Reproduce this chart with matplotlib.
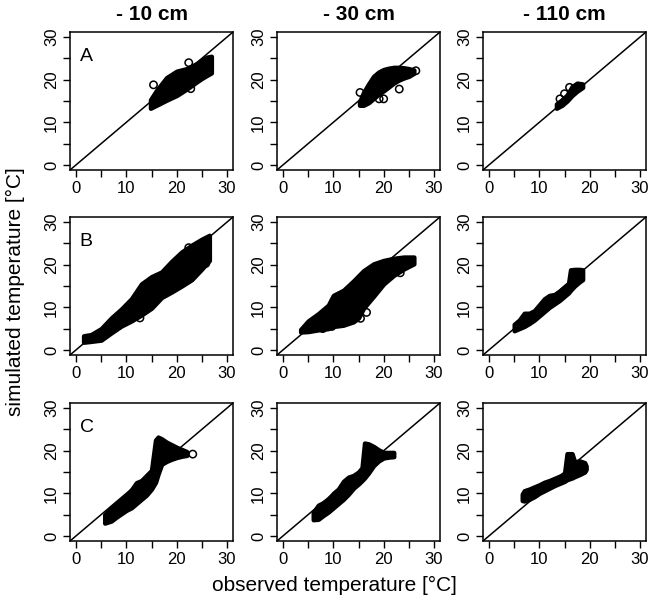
import matplotlib
matplotlib.use('Agg')
import matplotlib.pyplot as plt

plt.rcParams['font.family'] = ['Liberation Sans', 'DejaVu Sans']

# envelope of the point clouds: observed, simulated low / high
# row A
a10_obs = [14.8, 16, 18, 20, 22, 24, 25, 26, 26.9]
a10_lo = [13.3, 14.0, 15.2, 16.3, 17.8, 19.5, 20.3, 21.0, 21.6]
a10_hi = [15.3, 17.5, 20.5, 22.0, 22.6, 23.8, 24.6, 25.3, 25.5]
a10_ox = [15.4, 22.4, 22.8, 23.6]
a10_oy = [18.8, 24.0, 17.9, 19.8]

a30_obs = [15.2, 16, 17, 18, 19, 20, 21, 22, 23, 24, 25, 26]
a30_lo = [14.0, 14.0, 14.6, 15.6, 16.6, 17.4, 18.3, 19.2, 19.9, 20.4, 20.8, 21.5]
a30_hi = [14.8, 17.0, 19.0, 20.8, 21.8, 22.4, 22.7, 22.9, 22.9, 22.8, 22.6, 22.3]
a30_ox = [15.3, 19.1, 20.0, 23.1, 26.4]
a30_oy = [17.0, 15.5, 15.5, 17.8, 22.1]

a110_obs = [13.4, 14.5, 15.5, 16.5, 17.5, 18.6]
a110_lo = [13.3, 14.0, 15.0, 16.3, 17.3, 18.2]
a110_hi = [14.3, 15.3, 16.4, 18.4, 19.2, 19.0]
a110_ox = [14.1, 15.0, 16.0]
a110_oy = [15.5, 16.7, 18.2]

# row B
b10_obs = [1.5, 3, 5, 7, 9, 11, 13, 15, 17, 19, 21, 23, 25, 26.5]
b10_lo = [1.8, 2.0, 2.3, 4.0, 5.6, 6.8, 8.2, 9.8, 12.3, 13.6, 15.0, 16.5, 19.0, 21.0]
b10_hi = [3.3, 3.6, 5.0, 7.5, 9.6, 12.0, 15.5, 17.2, 18.3, 20.8, 23.0, 24.6, 26.0, 26.9]
b10_ox = [12.7, 22.4, 25.8]
b10_oy = [7.5, 24.0, 20.3]

b30_obs = [3.5, 5, 7, 9, 10, 12, 14, 15, 16, 18, 20, 22, 24, 26]
b30_lo = [4.2, 4.3, 4.7, 5.0, 5.5, 5.8, 6.6, 7.5, 9.8, 12.6, 15.5, 17.5, 19.0, 20.2]
b30_hi = [4.8, 6.8, 8.5, 10.5, 12.8, 14.0, 16.2, 17.4, 18.6, 20.2, 21.0, 21.5, 21.8, 21.8]
b30_ox = [7.9, 9.7, 15.4, 16.6, 23.3]
b30_oy = [5.0, 5.5, 7.4, 8.8, 18.1]

b110_obs = [5, 6, 7, 8, 9, 10, 11, 12, 13, 14, 15, 15.8, 16.2, 17, 18, 18.6]
b110_lo = [4.5, 5.0, 5.5, 6.2, 7.0, 8.0, 9.0, 10.0, 10.8, 11.6, 12.6, 13.4, 14.0, 15.0, 16.0, 16.5]
b110_hi = [6.0, 7.0, 8.6, 8.6, 9.2, 10.6, 12.0, 12.8, 13.0, 13.8, 14.8, 15.6, 18.8, 18.9, 18.9, 18.8]

# row C
c10_obs = [5.7, 7, 8, 9, 10, 11, 12, 13, 14, 15, 15.8, 16.3, 17, 18, 19, 20, 21, 22]
c10_lo = [3.0, 3.5, 4.4, 5.2, 6.0, 6.6, 7.6, 8.6, 9.6, 11.0, 12.6, 14.5, 16.8, 17.5, 18.0, 18.4, 18.7, 18.9]
c10_hi = [5.0, 6.6, 7.6, 8.5, 9.5, 10.8, 12.5, 13.0, 14.2, 15.4, 22.5, 23.2, 22.8, 22.0, 21.4, 20.8, 20.3, 19.8]
c10_ox = [23.2]
c10_oy = [19.2]

c30_obs = [6.0, 7, 8, 9, 10, 11, 12, 13, 14, 15, 15.7, 16.2, 17, 18, 19, 20, 21, 22]
c30_lo = [3.8, 3.9, 4.8, 5.6, 6.6, 7.6, 8.6, 9.8, 11.2, 12.2, 13.0, 13.6, 14.8, 16.5, 17.6, 18.3, 18.5, 18.6]
c30_hi = [5.5, 7.2, 7.8, 8.6, 10.0, 11.0, 12.8, 13.8, 14.2, 15.0, 16.0, 21.8, 21.6, 21.0, 20.2, 19.6, 19.6, 19.6]

c110_obs = [6.6, 7, 8, 9, 10, 11, 12, 13, 14, 15, 15.5, 16.5, 17, 18, 19, 19.3]
c110_lo = [8.3, 8.2, 8.6, 9.2, 10.0, 10.6, 11.2, 11.8, 12.3, 12.8, 13.2, 13.6, 13.9, 14.4, 15.0, 15.6]
c110_hi = [9.8, 10.6, 11.0, 11.5, 12.0, 12.6, 13.0, 13.5, 14.0, 14.6, 19.3, 19.3, 17.4, 17.6, 17.2, 16.4]

depths = ['- 10 cm', '- 30 cm', '- 110 cm']
rows = ['A', 'B', 'C']
ticks = [0, 5, 10, 15, 20, 25, 30]
tick_labels = ['0', '', '10', '', '20', '', '30']

panels = [
    [(a10_obs, a10_lo, a10_hi, a10_ox, a10_oy),
     (a30_obs, a30_lo, a30_hi, a30_ox, a30_oy),
     (a110_obs, a110_lo, a110_hi, a110_ox, a110_oy)],
    [(b10_obs, b10_lo, b10_hi, b10_ox, b10_oy),
     (b30_obs, b30_lo, b30_hi, b30_ox, b30_oy),
     (b110_obs, b110_lo, b110_hi, [], [])],
    [(c10_obs, c10_lo, c10_hi, c10_ox, c10_oy),
     (c30_obs, c30_lo, c30_hi, [], []),
     (c110_obs, c110_lo, c110_hi, [], [])],
]

W, H = 649, 603
fig = plt.figure(figsize=(W / 100, H / 100), dpi=100)

lefts = [70, 277, 483]
tops = [32, 217, 403]
pw, ph = 163, 138

for i in range(3):
    for j in range(3):
        ax = fig.add_axes([lefts[j] / W, 1 - (tops[i] + ph) / H, pw / W, ph / H])
        obs, lo, hi, ox, oy = panels[i][j]
        ax.plot([-5, 35], [-5, 35], color='black', lw=1.1)
        ax.fill_between(obs, lo, hi, facecolor='black', edgecolor='black',
                        linewidth=3.2, joinstyle='round')
        if len(ox):
            ax.scatter(ox, oy, s=28, facecolors='none', edgecolors='black', linewidths=1.1)
        ax.set_xlim(-1.2, 31.2)
        ax.set_ylim(-1.2, 31.2)
        ax.set_xticks(ticks)
        ax.set_xticklabels(tick_labels)
        ax.set_yticks(ticks)
        ax.set_yticklabels(tick_labels, rotation=90, va='center')
        ax.tick_params(direction='out', length=5, width=1.0, labelsize=12, pad=3)
        for sp in ax.spines.values():
            sp.set_linewidth(1.1)
        if j == 0:
            ax.text(0.06, 0.82, rows[i], transform=ax.transAxes, fontsize=14,
                    ha='left', va='center')
        if i == 0:
            fig.text((lefts[j] + pw / 2) / W, 1 - 15 / H, depths[j], fontsize=15,
                     fontweight='bold', ha='center', va='center')

fig.text(0.516, 1 - 585 / H, 'observed temperature [°C]', fontsize=15,
         ha='center', va='center')
fig.text(15 / W, 1 - 292 / H, 'simulated temperature [°C]', fontsize=15,
         ha='center', va='center', rotation=90)

fig.savefig('out.png', dpi=100)
